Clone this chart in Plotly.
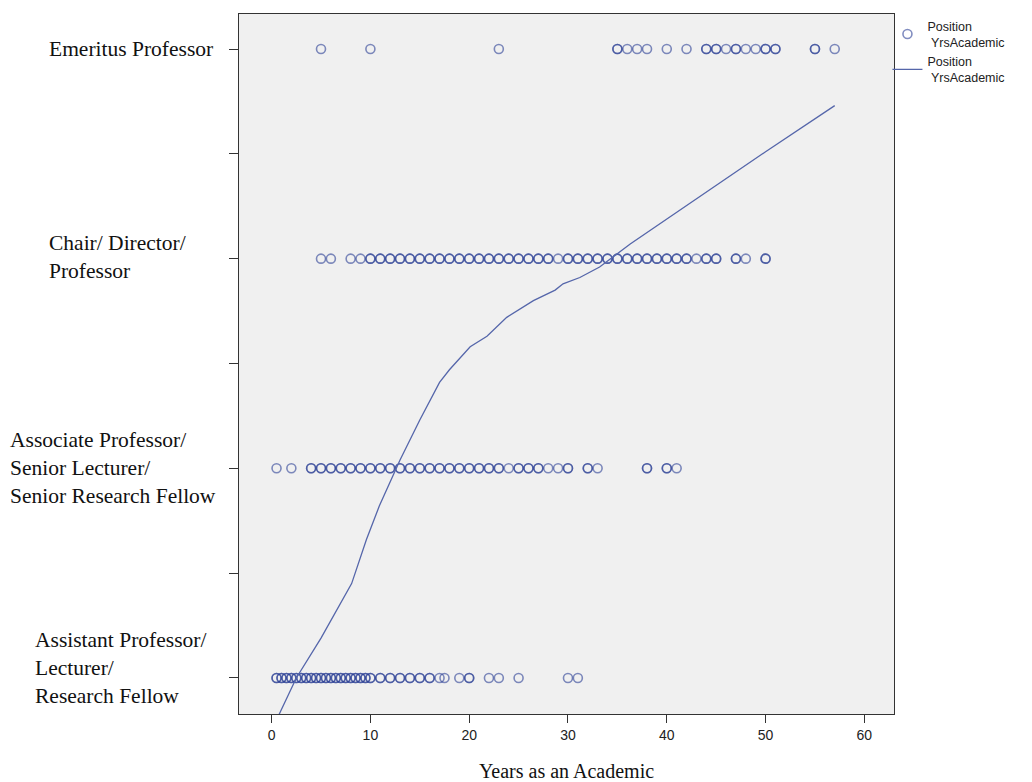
import plotly.graph_objects as go

# ---------------- data ----------------
category_codes = [1, 2, 3, 4]
category_labels = [
    "Assistant Professor/<br>Lecturer/<br>Research Fellow",
    "Associate Professor/<br>Senior Lecturer/<br>Senior Research Fellow",
    "Chair/ Director/<br>Professor",
    "Emeritus Professor",
]

# years as an academic for each position, with counts (darker circles = overlapping cases)
assistant_years = [0.5, 1, 1.5, 2, 2.5, 3, 3.5, 4, 4.5, 5, 5.5, 6, 6.5, 7, 7.5, 8, 8.5, 9, 9.5,
                   10, 11, 12, 13, 14, 15, 16, 17, 17.5, 19, 20, 22, 23, 25, 30, 31]
assistant_counts = [2, 2, 2, 2, 2, 2, 2, 2, 2, 2, 2, 2, 2, 2, 2, 2, 2, 2, 2,
                    2, 2, 2, 2, 2, 2, 2, 1, 1, 1, 2, 1, 1, 1, 1, 1]

associate_years = [0.5, 2, 4, 5, 6, 7, 8, 9, 10, 11, 12, 13, 14, 15, 16, 17, 18, 19, 20,
                   21, 22, 23, 24, 25, 26, 27, 28, 29, 30, 32, 33, 38, 40, 41]
associate_counts = [1, 1, 2, 2, 2, 2, 2, 2, 2, 2, 2, 2, 2, 2, 2, 2, 2, 2, 2,
                    2, 2, 2, 1, 2, 2, 2, 1, 1, 2, 2, 1, 2, 2, 1]

chair_years = [5, 6, 8, 9, 10, 11, 12, 13, 14, 15, 16, 17, 18, 19, 20, 21, 22, 23, 24, 25,
               26, 27, 28, 29, 30, 31, 32, 33, 34, 35, 36, 37, 38, 39, 40, 41, 42, 43, 44,
               45, 47, 48, 50]
chair_counts = [1, 1, 1, 1, 2, 2, 2, 2, 2, 2, 2, 2, 2, 2, 2, 2, 2, 2, 2, 2,
                2, 2, 2, 1, 2, 2, 2, 2, 2, 2, 2, 2, 2, 2, 2, 2, 2, 1, 2,
                2, 2, 1, 2]

emeritus_years = [5, 10, 23, 35, 36, 37, 38, 40, 42, 44, 45, 46, 47, 48, 49, 50, 51, 55, 57]
emeritus_counts = [1, 1, 1, 2, 1, 1, 1, 1, 1, 2, 2, 1, 2, 1, 1, 2, 2, 2, 1]

# loess fit line (Position vs YrsAcademic)
fit_years = [0.5, 2.5, 5.0, 8.1, 9.6, 10.9, 13.0, 15.0, 17.0, 18.0, 20.1, 21.8, 23.8,
             26.5, 28.7, 29.5, 31.2, 33.2, 36.3, 45.0, 50.0, 57.0]
fit_position = [0.80, 1.00, 1.19, 1.45, 1.66, 1.82, 2.04, 2.23, 2.41, 2.47, 2.58, 2.63, 2.72,
                2.80, 2.85, 2.88, 2.91, 2.96, 3.07, 3.35, 3.51, 3.73]

x_ticks = [0, 10, 20, 30, 40, 50, 60]
x_title = "Years as an Academic"
legend_name = "Position<br>\u00a0YrsAcademic"

# ---------------- build ----------------
rows = [
    (1, assistant_years, assistant_counts),
    (2, associate_years, associate_counts),
    (3, chair_years, chair_counts),
    (4, emeritus_years, emeritus_counts),
]
px, py = [], []
for code, yrs, cnts in rows:
    for v, c in zip(yrs, cnts):
        for _ in range(c):
            px.append(v)
            py.append(code)

fig = go.Figure()
fig.add_trace(go.Scatter(
    x=px, y=py, mode="markers", name=legend_name,
    marker=dict(symbol="circle-open", size=9, color="rgb(45,65,150)",
                opacity=0.6, line=dict(width=1.6)),
))
fig.add_trace(go.Scatter(
    x=fit_years, y=fit_position, mode="lines", name=legend_name,
    line=dict(color="rgb(85,102,170)", width=1.3),
))

# left category labels as left-aligned text blocks
label_shift = {1: (-206, 10), 2: (-231, 0), 3: (-192, 2), 4: (-192, 0)}
for code, lab in zip(category_codes, category_labels):
    xs, ys = label_shift[code]
    fig.add_annotation(
        x=0, xref="paper", y=code, yref="y", text=lab, showarrow=False,
        xanchor="left", yanchor="middle", align="left", xshift=xs, yshift=ys,
        font=dict(family="Liberation Serif", size=21.5, color="#111"),
    )

fig.update_layout(
    width=1032, height=782,
    margin=dict(l=239, r=138, t=14, b=68, autoexpand=False),
    paper_bgcolor="white", plot_bgcolor="#f0f0f0",
    showlegend=True,
    legend=dict(x=0.99, y=1.004, xanchor="left", yanchor="top",
                font=dict(family="Liberation Sans", size=12.5, color="#222"),
                bgcolor="rgba(0,0,0,0)", tracegroupgap=0, itemwidth=30),
    xaxis=dict(range=[-3.3, 63], tickvals=x_ticks, ticks="outside", ticklen=8,
               tickcolor="#333", showline=True, mirror=True, linecolor="#333",
               linewidth=1, showgrid=False, zeroline=False, automargin=False,
               tickfont=dict(family="Liberation Sans", size=14, color="#222"),
               title=dict(text=x_title, standoff=27,
                          font=dict(family="Liberation Serif", size=20, color="#111"))),
    yaxis=dict(range=[0.828, 4.167], tickvals=[1, 1.5, 2, 2.5, 3, 3.5, 4],
               ticktext=[""] * 7, ticks="outside", ticklen=9, tickcolor="#333",
               showline=True, mirror=True, linecolor="#333", linewidth=1,
               showgrid=False, zeroline=False, automargin=False),
)

fig.write_html("out.html")
